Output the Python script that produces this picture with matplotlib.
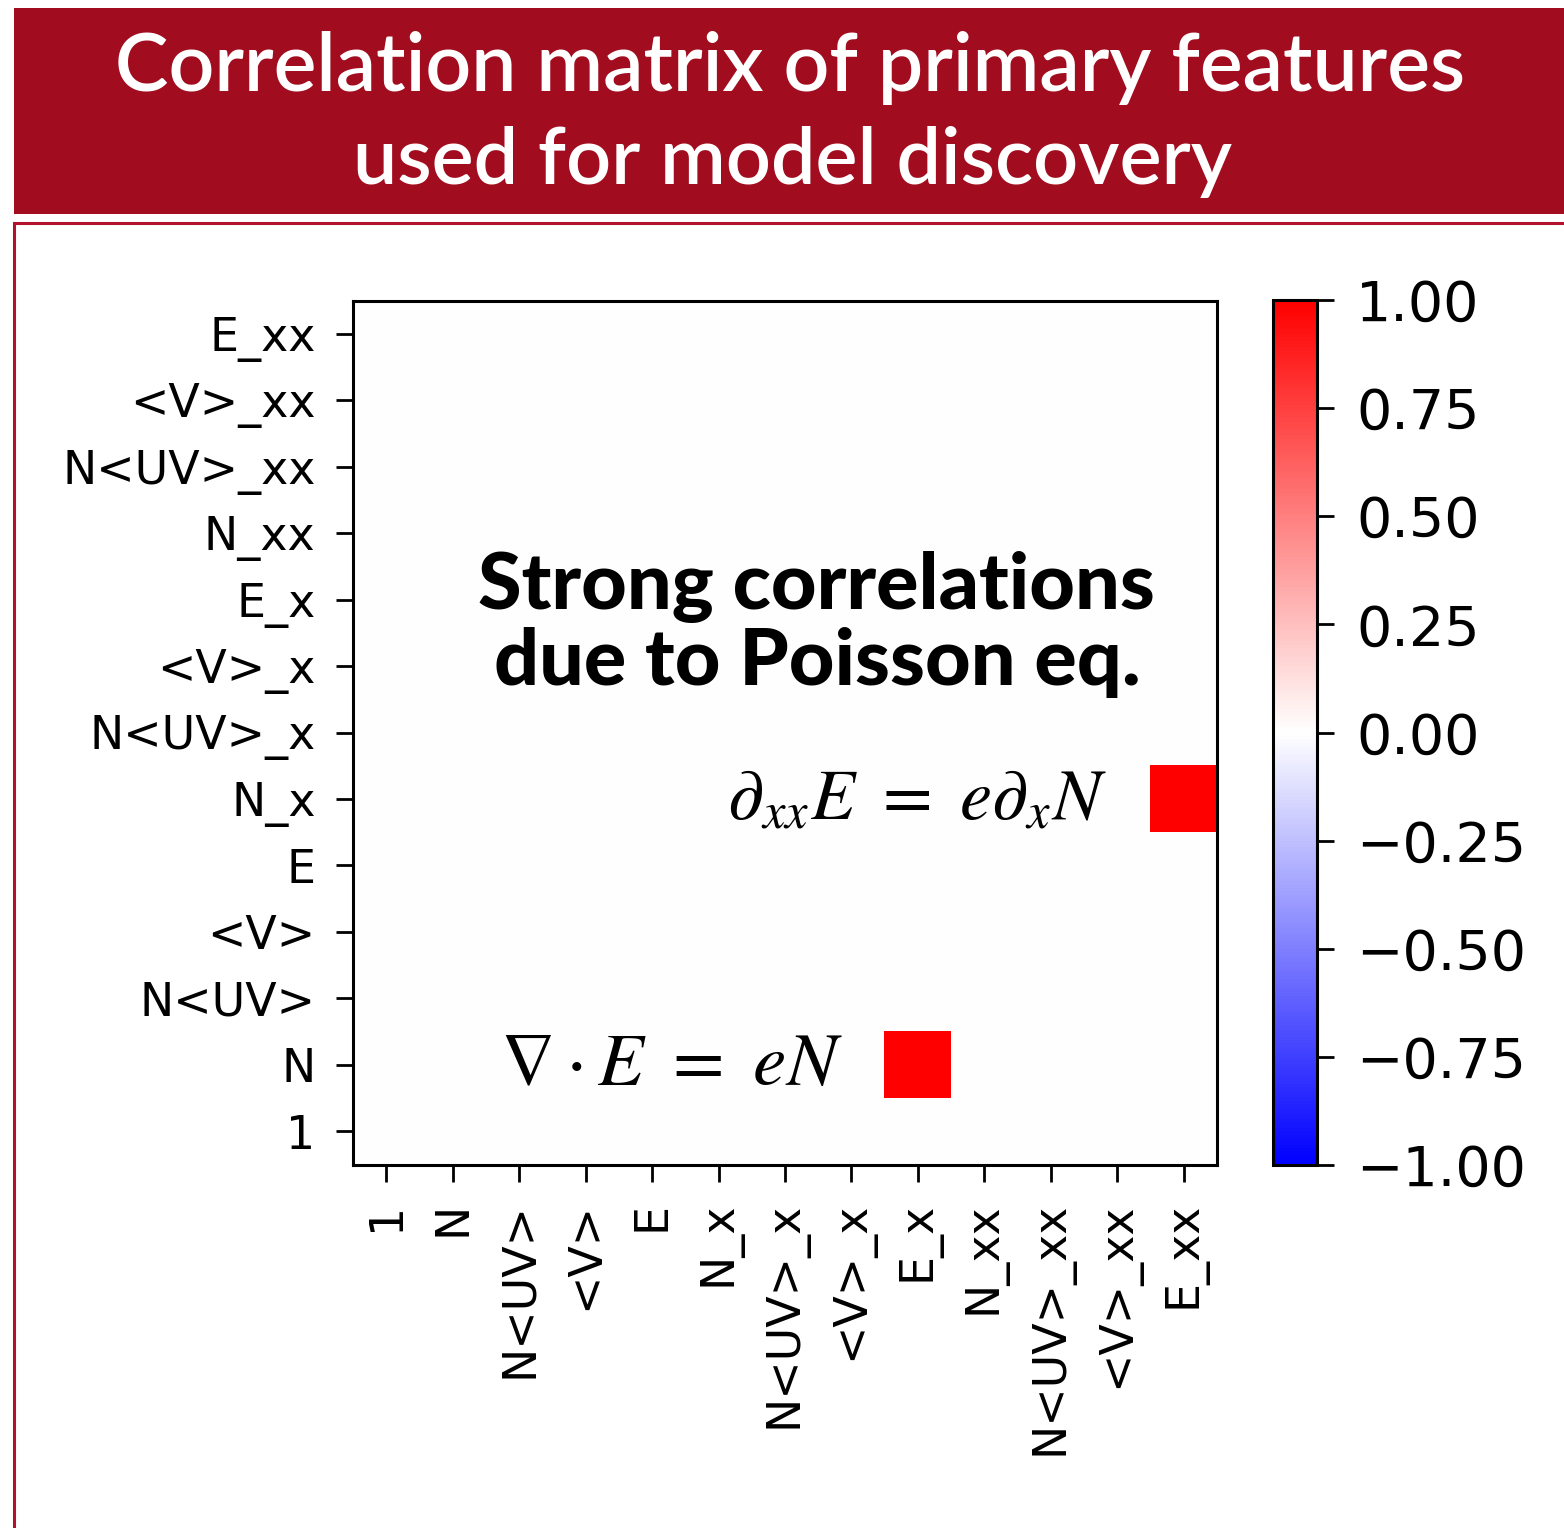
import numpy as np
import matplotlib
matplotlib.use("Agg")
import matplotlib.pyplot as plt
from matplotlib.patches import Rectangle

# features used for model discovery (bottom to top / left to right)
features = ["1", "N", "N<UV>", "<V>", "E", "N_x", "N<UV>_x", "<V>_x", "E_x",
            "N_xx", "N<UV>_xx", "<V>_xx", "E_xx"]

# only the strong correlations are kept in the matrix: (row, column, value)
strong_pairs = [("N", "E_x", 1.0),
                ("N_x", "E_xx", 1.0)]

corr = np.zeros((len(features), len(features)))
for row, col, val in strong_pairs:
    corr[features.index(row), features.index(col)] = val

W, H = 1564, 1528
fig = plt.figure(figsize=(W / 100, H / 100), dpi=100)
plt.rcParams['mathtext.fontset'] = 'stix'

def fx(px):
    return px / W

def fy(py):
    return 1 - py / H

# header banner
banner = Rectangle((fx(14), fy(214)), fx(1564 - 14) + 0.01, (214 - 8) / H,
                   transform=fig.transFigure, facecolor="#a20c1f",
                   edgecolor="none", zorder=-2)
fig.patches.append(banner)
fig.text(fx(790), fy(68), "Correlation matrix of primary features",
         color="white", fontsize=58, fontfamily="Lato", fontweight="semibold",
         ha="center", va="center")
fig.text(fx(792), fy(162), "used for model discovery",
         color="white", fontsize=57, fontfamily="Lato", fontweight="semibold",
         ha="center", va="center")

# panel frame
frame = Rectangle((fx(14), fy(1540)), fx(1600), (1540 - 223) / H,
                  transform=fig.transFigure, facecolor="white",
                  edgecolor="#b3122b", linewidth=2.2, zorder=-2)
fig.patches.append(frame)

ax = fig.add_axes([fx(353), fy(1165), fx(1217 - 353), (1165 - 300) / H])
cax = fig.add_axes([fx(1273), fy(1165), fx(1317 - 1273), (1165 - 300) / H])

im = ax.imshow(corr, cmap="bwr", vmin=-1, vmax=1, origin="lower",
               interpolation="nearest")

ticks = np.arange(len(features))
ax.set_xticks(ticks)
ax.set_xticklabels(features, rotation=90)
ax.set_yticks(ticks)
ax.set_yticklabels(features)
ax.tick_params(labelsize=33, length=12, width=2, pad=15)
for sp in ax.spines.values():
    sp.set_linewidth(2.2)

cb = fig.colorbar(im, cax=cax)
cb_ticks = [-1, -0.75, -0.5, -0.25, 0, 0.25, 0.5, 0.75, 1]
cb.set_ticks(cb_ticks)
cb.ax.set_yticklabels([f"{t:.2f}".replace("-", "\u2212") for t in cb_ticks])
cb.ax.tick_params(labelsize=40, length=12, width=2, pad=16)
cb.outline.set_linewidth(2.2)

# annotations
ax.text(6.48, 7.62, "Strong correlations\ndue to Poisson eq.",
        fontsize=57, fontfamily="Lato", fontweight="black",
        ha="center", va="center", linespacing=1.07)
ax.text(10.84, 5.0, r"$\partial_{xx}E\ =\ e\partial_x N$", fontsize=52,
        ha="right", va="center")
ax.text(6.87, 1.0, r"$\nabla \cdot E\ =\ eN$", fontsize=54,
        ha="right", va="center")

fig.savefig("out.png", dpi=100)
